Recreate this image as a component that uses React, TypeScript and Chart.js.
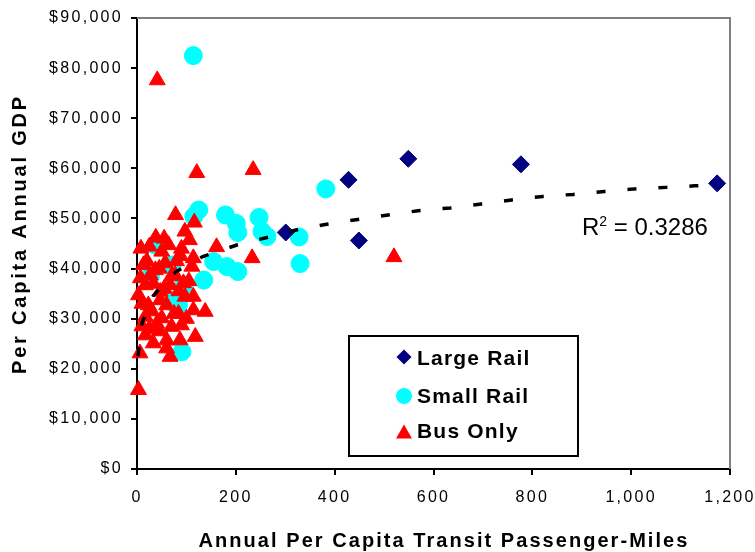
import React, { useEffect, useRef } from "react";
import { Chart, registerables } from "chart.js";

Chart.register(...registerables);

// ---- data ----
const largeRailX = [301, 428, 549, 449, 777, 1174];
const largeRailY = [47200, 57700, 61900, 45600, 60800, 57000];

const smallRailX = [114, 382, 328, 330, 125, 115, 179, 201, 204, 247, 253, 263, 155, 182, 204, 135, 95, 74, 81, 91, 27, 71, 37, 84];
const smallRailY = [82500, 55900, 46300, 41000, 51700, 50400, 50700, 49000, 47200, 50200, 47400, 46400, 41400, 40400, 39400, 37700, 36700, 33700, 32400, 23400, 38400, 40700, 44700, 32700];

const busOnlyX = [121, 235, 78, 116, 97, 38, 106, 64, 161, 25, 41, 520, 233, 3, 50, 114, 13, 57, 111, 27, 77, 94, 3, 47, 97, 114, 23, 60, 138, 114, 17, 50, 70, 90, 17, 33, 60, 87, 118, 60, 6, 67, 37, 17, 67, 47, 7, 30, 80, 84, 8, 20, 45, 70, 88, 33, 55, 85, 10, 40, 75, 25, 105, 100, 45, 10, 90, 55];
const busOnlyY = [59100, 59700, 50700, 49200, 47400, 46200, 45700, 44700, 44300, 44400, 77600, 42300, 42100, 15800, 43400, 42100, 40700, 41100, 40400, 38700, 38700, 37100, 34700, 35400, 34400, 34400, 32700, 32700, 31400, 31700, 30400, 30100, 28400, 28700, 26700, 25100, 25700, 25700, 26400, 24100, 23100, 22400, 39700, 36700, 36700, 33700, 38100, 31500, 41500, 31000, 44000, 41500, 40000, 38500, 42500, 37000, 36000, 35500, 33000, 29000, 31000, 28000, 37500, 30000, 27500, 28500, 44000, 46000];

const trendX = [2, 10, 33, 78, 133, 202, 263, 334, 387, 447, 508, 573, 634, 697, 758, 822, 882, 946, 1007, 1071, 1128, 1180];
const trendY = [22500, 29100, 34600, 39300, 42400, 44700, 46200, 48000, 48900, 49800, 50700, 51600, 52100, 52900, 53700, 54400, 54800, 55400, 55900, 56200, 56500, 56800];

const legendLabels = ["Large Rail", "Small Rail", "Bus Only"];
const rSquaredText = "0.3286";
const xTitle = "Annual Per Capita Transit Passenger-Miles";
const yTitle = "Per Capita Annual GDP";

const FONT = "'Liberation Sans', Arial, Helvetica, sans-serif";

const pts = (xs: number[], ys: number[]) => xs.map((x, i) => ({ x, y: ys[i] }));

const decorPlugin = {
  id: "decor",
  beforeLayout(chart: any) {
    chart.ctx.letterSpacing = "2.3px";
  },
  beforeDraw(chart: any) {
    chart.ctx.letterSpacing = "2.3px";
  },
  beforeDatasetsDraw(chart: any) {
    const { ctx, chartArea } = chart;
    ctx.save();
    ctx.strokeStyle = "#808080";
    ctx.lineWidth = 2;
    ctx.beginPath();
    ctx.moveTo(chartArea.left, chartArea.top);
    ctx.lineTo(chartArea.right, chartArea.top);
    ctx.lineTo(chartArea.right, chartArea.bottom);
    ctx.stroke();
    ctx.restore();
  },
  afterDraw(chart: any) {
    const { ctx } = chart;
    ctx.save();
    ctx.fillStyle = "#000";

    // Y axis title
    ctx.save();
    ctx.translate(26, 234);
    ctx.rotate(-Math.PI / 2);
    ctx.font = `bold 20px ${FONT}`;
    ctx.letterSpacing = "2.8px";
    ctx.textAlign = "center";
    ctx.textBaseline = "alphabetic";
    ctx.fillText(yTitle, 0, 0);
    ctx.restore();

    // X axis title
    ctx.font = `bold 20px ${FONT}`;
    ctx.letterSpacing = "2.05px";
    ctx.textAlign = "center";
    ctx.textBaseline = "alphabetic";
    ctx.fillText(xTitle, 444, 547);

    // R squared label
    ctx.letterSpacing = "0px";
    ctx.textAlign = "left";
    ctx.font = `24px ${FONT}`;
    let x = 582;
    const base = 235;
    ctx.fillText("R", x, base);
    x += ctx.measureText("R").width;
    ctx.font = `14px ${FONT}`;
    ctx.fillText("2", x, base - 9);
    x += ctx.measureText("2").width;
    ctx.font = `24px ${FONT}`;
    ctx.fillText(" = " + rSquaredText, x, base);

    // Legend box
    const bx = 349, by = 336, bw = 229, bh = 120;
    ctx.fillStyle = "#fff";
    ctx.fillRect(bx, by, bw, bh);
    ctx.strokeStyle = "#000";
    ctx.lineWidth = 2;
    ctx.strokeRect(bx, by, bw, bh);

    const mx = 404;
    // diamond
    ctx.fillStyle = "#000080";
    ctx.beginPath();
    ctx.moveTo(mx, 349.5);
    ctx.lineTo(mx + 7.5, 357);
    ctx.lineTo(mx, 364.5);
    ctx.lineTo(mx - 7.5, 357);
    ctx.closePath();
    ctx.fill();
    // circle
    ctx.fillStyle = "#00FFFF";
    ctx.beginPath();
    ctx.arc(mx, 396, 8, 0, Math.PI * 2);
    ctx.fill();
    // triangle
    ctx.fillStyle = "#FF0000";
    ctx.beginPath();
    ctx.moveTo(mx, 424.5);
    ctx.lineTo(mx + 8, 438.5);
    ctx.lineTo(mx - 8, 438.5);
    ctx.closePath();
    ctx.fill();

    ctx.fillStyle = "#000";
    ctx.font = `bold 21px ${FONT}`;
    ctx.letterSpacing = "1.2px";
    ctx.textAlign = "left";
    ctx.fillText(legendLabels[0], 417, 365);
    ctx.fillText(legendLabels[1], 417, 403);
    ctx.fillText(legendLabels[2], 417, 437.5);

    ctx.restore();
  },
};

export default function App() {
  const ref = useRef<HTMLCanvasElement>(null);

  useEffect(() => {
    if (!ref.current) return;
    const chart = new Chart(ref.current, {
      type: "scatter",
      data: {
        datasets: [
          {
            label: "Trend",
            data: pts(trendX, trendY),
            showLine: true,
            pointRadius: 0,
            borderColor: "#000",
            borderWidth: 3.5,
            borderDash: [9, 22],
            borderCapStyle: "butt",
            fill: false,
            order: 0,
            clip: false,
          } as any,
          {
            label: legendLabels[2],
            data: pts(busOnlyX, busOnlyY),
            pointStyle: "triangle",
            pointRadius: 9.2,
            backgroundColor: "#FF0000",
            borderColor: "#FF0000",
            borderWidth: 1,
            order: 1,
            clip: false,
          } as any,
          {
            label: legendLabels[0],
            data: pts(largeRailX, largeRailY),
            pointStyle: "rectRot",
            pointRadius: 8.5,
            backgroundColor: "#000080",
            borderColor: "#000080",
            borderWidth: 1,
            order: 2,
            clip: false,
          } as any,
          {
            label: legendLabels[1],
            data: pts(smallRailX, smallRailY),
            pointStyle: "circle",
            pointRadius: 9,
            backgroundColor: "#00FFFF",
            borderColor: "#00FFFF",
            borderWidth: 1,
            order: 3,
            clip: false,
          } as any,
        ],
      },
      options: {
        animation: false,
        responsive: false,
        devicePixelRatio: 1,
        layout: { padding: { top: 18, right: 25, left: 0, bottom: 0 } },
        plugins: { legend: { display: false }, tooltip: { enabled: false } },
        scales: {
          x: {
            type: "linear",
            min: 0,
            max: 1200,
            ticks: {
              stepSize: 200,
              color: "#000",
              font: { family: FONT, size: 16 },
              padding: 13,
              maxRotation: 0,
              autoSkip: false,
              callback: (v: any) => Number(v).toLocaleString("en-US"),
            },
            grid: { drawOnChartArea: false, drawTicks: true, tickLength: 6, color: "#000", lineWidth: 2 },
            border: { color: "#000", width: 2 },
            afterFit: (s: any) => {
              s.height = 83;
              s.paddingLeft = 0;
              s.paddingRight = 0;
            },
          },
          y: {
            type: "linear",
            min: 0,
            max: 90000,
            ticks: {
              stepSize: 10000,
              color: "#000",
              font: { family: FONT, size: 16 },
              padding: 8,
              callback: (v: any) => "$" + Number(v).toLocaleString("en-US"),
            },
            grid: { drawOnChartArea: false, drawTicks: true, tickLength: 6, color: "#000", lineWidth: 2 },
            border: { color: "#000", width: 2 },
            afterFit: (s: any) => {
              s.width = 137;
              s.paddingTop = 0;
              s.paddingBottom = 0;
            },
          },
        },
      } as any,
      plugins: [decorPlugin],
    });
    return () => chart.destroy();
  }, []);

  return (
    <div style={{ position: "absolute", left: 0, top: 0, width: 755, height: 552, background: "#fff" }}>
      <canvas ref={ref} width={755} height={552} style={{ width: 755, height: 552, display: "block" }} />
    </div>
  );
}
